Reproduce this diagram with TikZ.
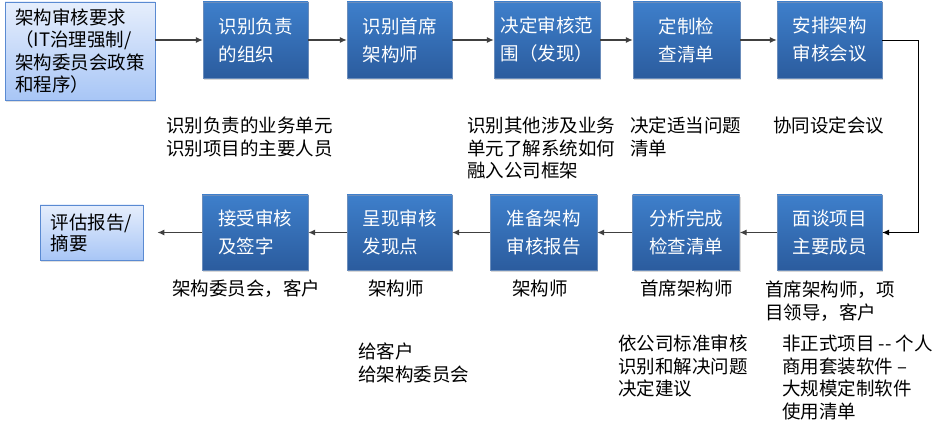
\documentclass[tikz,border=0pt]{standalone}
\usepackage{fontspec}
\newfontfamily\cjk{Noto Sans CJK SC}
\usetikzlibrary{shadows,arrows.meta}

\definecolor{boxtop}{HTML}{3E7FCB}
\definecolor{boxbot}{HTML}{2B5C9E}
\definecolor{lighttop}{HTML}{E6EEFC}
\definecolor{lightbot}{HTML}{A8C6F6}
\definecolor{lightedge}{HTML}{5A8AD2}
\definecolor{linegray}{HTML}{404040}

\begin{document}
\begin{tikzpicture}[x=1pt, y=-1pt,
    font=\cjk\fontsize{18.5}{22.5}\selectfont,
    stepbox/.style={minimum width=105pt, minimum height=76pt, inner sep=0pt,
        top color=boxtop, bottom color=boxbot, draw=boxbot!70!white, text=white,
        align=left, font=\cjk\fontsize{18.5}{28}\selectfont,
        drop shadow={shadow xshift=1pt, shadow yshift=-2pt, opacity=0.3}},
    inbox/.style={inner sep=0pt, top color=lighttop, bottom color=lightbot,
        draw=lightedge, line width=0.8pt, align=left,
        drop shadow={shadow xshift=1pt, shadow yshift=-2pt, opacity=0.25}},
    note/.style={anchor=north west, inner sep=0pt, align=left},
    flow/.style={draw=linegray, line width=1.1pt, -{Latex[length=7pt, width=6pt]}}]

    \path[use as bounding box, fill=white] (0,0) rectangle (950,427);

    % top row
    \node [inbox, minimum width=150pt, minimum height=98pt] (req) at (80,51) {架构审核要求\\（IT治理强制/\\架构委员会政策\\和程序）};
    \node [stepbox] (org) at (255.5,40) {识别负责\\的组织};
    \node [stepbox] (chief) at (399.5,40) {识别首席\\架构师};
    \node [stepbox, minimum width=106pt] (scope) at (547,40) {决定审核范\\围（发现）};
    \node [stepbox, minimum width=107pt] (tailor) at (686.5,40) {定制检\\查清单};
    \node [stepbox] (meet) at (829.5,40) {安排架构\\审核会议};

    % bottom row
    \node [stepbox, minimum height=75pt] (interview) at (829.5,232.5) {面谈项目\\主要成员};
    \node [stepbox, minimum height=75pt, minimum width=107pt] (analyse) at (686,232.5) {分析完成\\检查清单};
    \node [stepbox, minimum height=75pt, minimum width=107pt] (report) at (543.5,232.5) {准备架构\\审核报告};
    \node [stepbox, minimum height=75pt] (present) at (399.5,232.5) {呈现审核\\发现点};
    \node [stepbox, minimum height=75pt, minimum width=106pt] (accept) at (255,232.5) {接受审核\\及签字};
    \node [inbox, minimum width=103pt, minimum height=55pt, font=\cjk\fontsize{18.5}{21}\selectfont] (summary) at (91.5,232.5) {评估报告/\\摘要};

    \coordinate (turn) at (918,40);

    \draw [flow] (req.east |- org.west) -- (org.west);
    \draw [flow] (org) -- (chief); \draw [flow] (chief) -- (scope); \draw [flow] (scope) -- (tailor); \draw [flow] (tailor) -- (meet);
    \draw [flow, draw=black, line width=0.9pt] (meet.east) -- (turn) |- (interview.east);
    \draw [flow] (interview) -- (analyse); \draw [flow] (analyse) -- (report); \draw [flow] (report) -- (present); \draw [flow] (present) -- (accept);
    \draw [flow, shorten >=14pt] (accept.west) -- (summary.east);

    % notes
    \node [note] (n-org) at (166,117) {识别负责的业务单元\\识别项目的主要人员};
    \node [note] (n-scope) at (467,117) {识别其他涉及业务\\单元了解系统如何\\融入公司框架};
    \node [note] (n-tailor) at (630,117) {决定适当问题\\清单};
    \node [note] (n-meet) at (773,117) {协同设定会议};
    \node [note] (n-accept) at (172,280) {架构委员会，客户};
    \node [note] (n-present) at (368,280) {架构师};
    \node [note] (n-report) at (512,280) {架构师};
    \node [note] (n-analyse) at (640,280) {首席架构师};
    \node [note] (n-interview) at (765,281) {首席架构师，项\\目领导，客户};
    \node [note] (n-present2) at (358,343) {给客户\\给架构委员会};
    \node [note] (n-analyse2) at (618,335) {依公司标准审核\\识别和解决问题\\决定建议};
    \node [note] (n-interview2) at (782,335) {非正式项目 -{}- 个人\\商用套装软件 –\\大规模定制软件\\使用清单};
\end{tikzpicture}
\end{document}
